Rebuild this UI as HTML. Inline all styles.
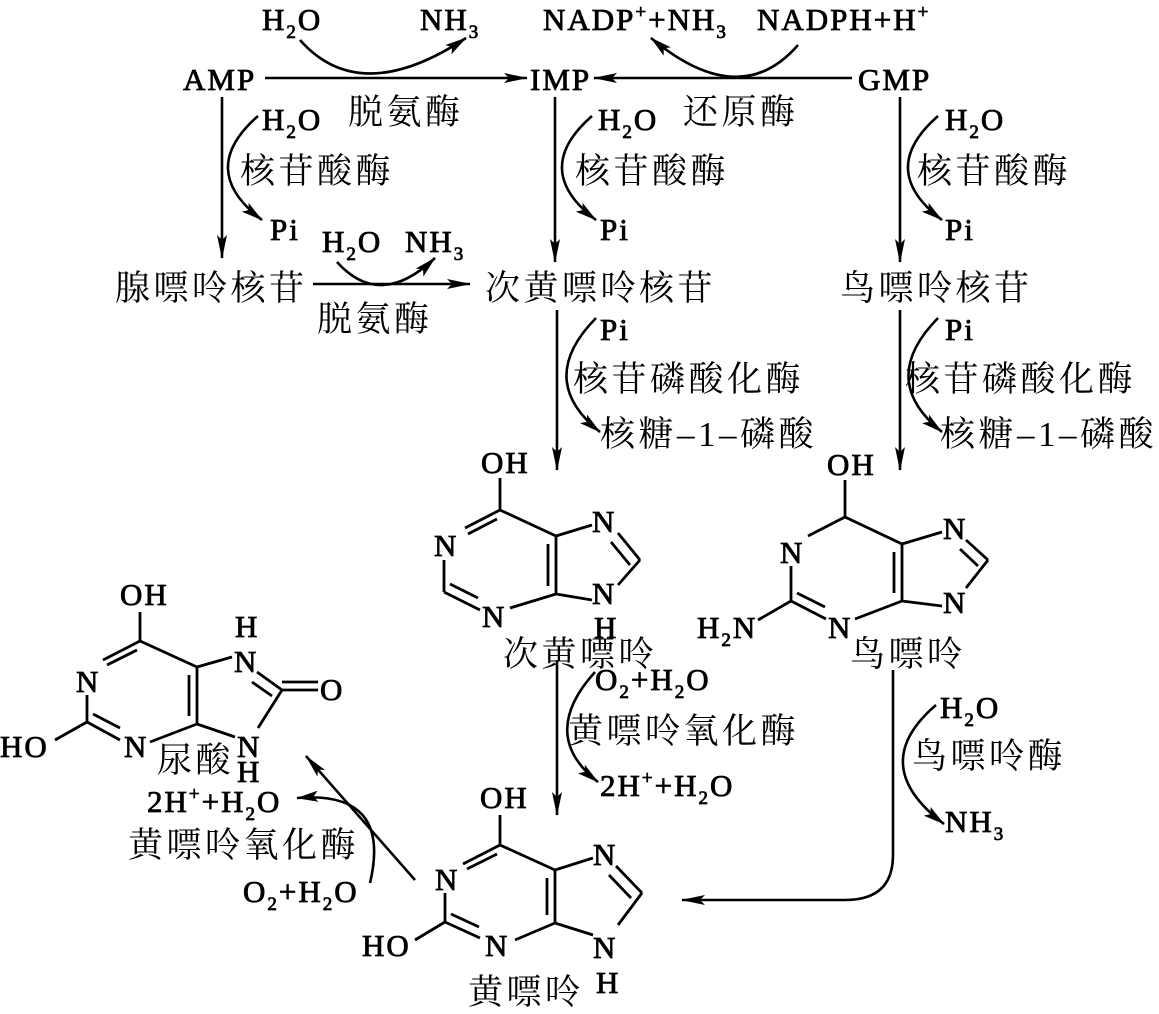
<!DOCTYPE html>
<html><head><meta charset="utf-8">
<style>
html,body{margin:0;padding:0;background:#fff;}
svg{display:block;}
.l{font-family:"Liberation Serif","Times New Roman",serif;font-size:31px;letter-spacing:2px;fill:#000;stroke:#000;stroke-width:0.8px;}
.c{font-family:"Noto Serif CJK SC","Noto Sans CJK SC",serif;font-size:35px;letter-spacing:3.5px;fill:#000;}
.c2{font-family:"Liberation Serif","Noto Serif CJK SC",serif;font-size:35px;letter-spacing:3.5px;fill:#000;}
.s{font-size:19px;}
line,path{stroke:#000;stroke-width:2.6;fill:none;}
.b line{stroke-width:2.8;}
</style></head>
<body>
<svg width="1159" height="1014" viewBox="0 0 1159 1014" xmlns="http://www.w3.org/2000/svg">
<defs>
<marker id="a" viewBox="0 0 24 10" refX="23" refY="5" markerWidth="24" markerHeight="10" markerUnits="userSpaceOnUse" orient="auto">
<path d="M0,0 L24,5 L0,10 L5,5 Z" style="fill:#000;stroke:none"/>
</marker>
<marker id="m" viewBox="0 0 24 12" refX="23" refY="6" markerWidth="22" markerHeight="12" markerUnits="userSpaceOnUse" orient="auto">
<path d="M0,0 L24,6 L0,12 L5,6 Z" style="fill:#000;stroke:none"/>
</marker>
</defs>

<text class="l" x="262" y="30">H<tspan class="s" dy="8">2</tspan><tspan dy="-8">O</tspan></text>
<text class="l" x="420" y="30">NH<tspan class="s" dy="8">3</tspan></text>
<text class="l" x="543" y="30">NADP<tspan class="s" dy="-12">+</tspan><tspan dy="12">+NH</tspan><tspan class="s" dy="8">3</tspan></text>
<text class="l" x="757" y="30">NADPH+H<tspan class="s" dy="-12">+</tspan></text>
<text class="l" x="183" y="90">AMP</text>
<text class="l" x="530" y="90">IMP</text>
<text class="l" x="858" y="90">GMP</text>
<text class="c" x="348" y="124">脱氨酶</text>
<text class="c" x="683" y="124">还原酶</text>
<line x1="265" y1="78" x2="527" y2="78" marker-end="url(#a)"/>
<line x1="852" y1="78" x2="594" y2="78" marker-end="url(#a)"/>
<path d="M300,40 Q360,108 466,38" marker-end="url(#m)"/>
<path d="M798,45 Q740,112 651,38" marker-end="url(#m)"/>

<line x1="222" y1="97" x2="222" y2="258" marker-end="url(#a)"/>
<line x1="555" y1="97" x2="555" y2="262" marker-end="url(#a)"/>
<line x1="900" y1="97" x2="900" y2="262" marker-end="url(#a)"/>
<path d="M258,116 Q196,170 262,220" marker-end="url(#m)"/>
<path d="M592,116 Q530,170 596,220" marker-end="url(#m)"/>
<path d="M938,116 Q876,170 942,220" marker-end="url(#m)"/>
<text class="l" x="262" y="130">H<tspan class="s" dy="8">2</tspan><tspan dy="-8">O</tspan></text>
<text class="c" x="240" y="183">核苷酸酶</text>
<text class="l" x="270" y="240">Pi</text>
<text class="l" x="598" y="130">H<tspan class="s" dy="8">2</tspan><tspan dy="-8">O</tspan></text>
<text class="c" x="575" y="183">核苷酸酶</text>
<text class="l" x="600" y="240">Pi</text>
<text class="l" x="945" y="130">H<tspan class="s" dy="8">2</tspan><tspan dy="-8">O</tspan></text>
<text class="c" x="917" y="183">核苷酸酶</text>
<text class="l" x="945" y="240">Pi</text>

<text class="c" x="115" y="300">腺嘌呤核苷</text>
<text class="c" x="485" y="300">次黄嘌呤核苷</text>
<text class="c" x="840" y="300">鸟嘌呤核苷</text>
<text class="l" x="322" y="252">H<tspan class="s" dy="8">2</tspan><tspan dy="-8">O</tspan></text>
<text class="l" x="405" y="252">NH<tspan class="s" dy="8">3</tspan></text>
<text class="c" x="317" y="331">脱氨酶</text>
<line x1="313" y1="284" x2="470" y2="284" marker-end="url(#a)"/>
<path d="M337,262 Q380,310 435,258" marker-end="url(#m)"/>

<line x1="557" y1="310" x2="557" y2="470" marker-end="url(#a)"/>
<line x1="900" y1="310" x2="900" y2="470" marker-end="url(#a)"/>
<path d="M596,318 Q535,380 600,432" marker-end="url(#m)"/>
<path d="M938,318 Q877,380 942,432" marker-end="url(#m)"/>
<text class="l" x="600" y="340">Pi</text>
<text class="c" x="573" y="391">核苷磷酸化酶</text>
<text class="c2" x="600" y="446">核糖–1–磷酸</text>
<text class="l" x="945" y="340">Pi</text>
<text class="c" x="905" y="391">核苷磷酸化酶</text>
<text class="c2" x="940" y="446">核糖–1–磷酸</text>

<g class="b">
<line x1="500" y1="510" x2="500" y2="478"/>
<line x1="500" y1="510" x2="465" y2="528"/><line x1="497" y1="519" x2="468" y2="534"/>
<line x1="444" y1="560" x2="444" y2="592"/>
<line x1="444" y1="592" x2="480" y2="610"/><line x1="450" y1="584" x2="478" y2="598"/>
<line x1="510" y1="608" x2="556" y2="594"/>
<line x1="556" y1="594" x2="556" y2="536"/><line x1="548" y1="586" x2="548" y2="544"/>
<line x1="556" y1="536" x2="500" y2="510"/>
<line x1="556" y1="536" x2="592" y2="525"/>
<line x1="618" y1="533" x2="640" y2="560"/><line x1="611" y1="542" x2="630" y2="565"/>
<line x1="640" y1="560" x2="618" y2="585"/>
<line x1="556" y1="594" x2="592" y2="600"/>
</g>
<text class="l" x="481" y="473">OH</text>
<text class="l" x="434" y="556">N</text>
<text class="l" x="482" y="627">N</text>
<text class="l" x="592" y="532">N</text>
<text class="l" x="592" y="604">N</text>
<text class="l" x="594" y="638">H</text>
<text class="c" x="503" y="666">次黄嘌呤</text>

<g class="b">
<line x1="845" y1="517" x2="845" y2="480"/>
<line x1="845" y1="517" x2="808" y2="536"/>
<line x1="791" y1="566" x2="791" y2="601"/>
<line x1="791" y1="601" x2="826" y2="619"/><line x1="797" y1="593" x2="825" y2="607"/>
<line x1="855" y1="619" x2="902" y2="601"/>
<line x1="902" y1="601" x2="902" y2="544"/><line x1="894" y1="593" x2="894" y2="552"/>
<line x1="902" y1="544" x2="845" y2="517"/>
<line x1="902" y1="544" x2="942" y2="532"/>
<line x1="966" y1="540" x2="988" y2="560"/><line x1="960" y1="549" x2="978" y2="566"/>
<line x1="988" y1="560" x2="966" y2="588"/>
<line x1="902" y1="601" x2="942" y2="606"/>
<line x1="791" y1="601" x2="758" y2="620"/>
</g>
<text class="l" x="827" y="475">OH</text>
<text class="l" x="780" y="563">N</text>
<text class="l" x="828" y="638">N</text>
<text class="l" x="943" y="539">N</text>
<text class="l" x="943" y="613">N</text>
<text class="l" x="697" y="638">H<tspan class="s" dy="8">2</tspan><tspan dy="-8">N</tspan></text>
<text class="c" x="850" y="666">鸟嘌呤</text>

<line x1="557" y1="660" x2="557" y2="815" marker-end="url(#a)"/>
<path d="M595,672 Q538,735 598,782" marker-end="url(#m)"/>
<text class="l" x="595" y="690">O<tspan class="s" dy="8">2</tspan><tspan dy="-8">+H</tspan><tspan class="s" dy="8">2</tspan><tspan dy="-8">O</tspan></text>
<text class="c" x="568" y="743">黄嘌呤氧化酶</text>
<text class="l" x="600" y="796">2H<tspan class="s" dy="-12">+</tspan><tspan dy="12">+H</tspan><tspan class="s" dy="8">2</tspan><tspan dy="-8">O</tspan></text>

<path d="M893,670 L893,855 Q893,900 845,900 L682,900" marker-end="url(#a)"/>
<path d="M936,705 Q866,765 944,824" marker-end="url(#m)"/>
<text class="l" x="940" y="718">H<tspan class="s" dy="8">2</tspan><tspan dy="-8">O</tspan></text>
<text class="c" x="912" y="768">鸟嘌呤酶</text>
<text class="l" x="945" y="832">NH<tspan class="s" dy="8">3</tspan></text>

<g class="b">
<line x1="500" y1="845" x2="500" y2="815"/>
<line x1="500" y1="845" x2="463" y2="864"/><line x1="497" y1="854" x2="467" y2="869"/>
<line x1="445" y1="893" x2="445" y2="922"/>
<line x1="445" y1="922" x2="480" y2="938"/><line x1="451" y1="914" x2="479" y2="927"/>
<line x1="445" y1="922" x2="415" y2="940"/>
<line x1="515" y1="940" x2="555" y2="923"/>
<line x1="555" y1="923" x2="555" y2="870"/><line x1="547" y1="915" x2="547" y2="878"/>
<line x1="555" y1="870" x2="500" y2="845"/>
<line x1="555" y1="870" x2="593" y2="858"/>
<line x1="616" y1="866" x2="642" y2="893"/><line x1="609" y1="875" x2="631" y2="898"/>
<line x1="642" y1="893" x2="618" y2="925"/>
<line x1="555" y1="923" x2="593" y2="935"/>
</g>
<text class="l" x="480" y="808">OH</text>
<text class="l" x="435" y="890">N</text>
<text class="l" x="485" y="956">N</text>
<text class="l" x="593" y="865">N</text>
<text class="l" x="593" y="958">N</text>
<text class="l" x="362" y="956">HO</text>
<text class="l" x="596" y="993">H</text>
<text class="c" x="468" y="1004">黄嘌呤</text>

<line x1="415" y1="880" x2="306" y2="756" marker-end="url(#a)"/>
<path d="M370,883 Q392,790 297,798" marker-end="url(#m)"/>
<text class="l" x="147" y="812">2H<tspan class="s" dy="-12">+</tspan><tspan dy="12">+H</tspan><tspan class="s" dy="8">2</tspan><tspan dy="-8">O</tspan></text>
<text class="c" x="128" y="857">黄嘌呤氧化酶</text>
<text class="l" x="243" y="902">O<tspan class="s" dy="8">2</tspan><tspan dy="-8">+H</tspan><tspan class="s" dy="8">2</tspan><tspan dy="-8">O</tspan></text>

<g class="b">
<line x1="140" y1="641" x2="140" y2="612"/>
<line x1="140" y1="641" x2="103" y2="660"/><line x1="137" y1="650" x2="107" y2="665"/>
<line x1="87" y1="695" x2="87" y2="722"/>
<line x1="87" y1="722" x2="120" y2="740"/><line x1="93" y1="714" x2="120" y2="728"/>
<line x1="87" y1="722" x2="55" y2="740"/>
<line x1="150" y1="742" x2="197" y2="724"/>
<line x1="197" y1="724" x2="197" y2="667"/><line x1="189" y1="716" x2="189" y2="675"/>
<line x1="197" y1="667" x2="140" y2="641"/>
<line x1="197" y1="667" x2="232" y2="657"/>
<line x1="257" y1="672" x2="282" y2="690"/><line x1="252" y1="682" x2="272" y2="696"/>
<line x1="282" y1="690" x2="318" y2="690"/><line x1="282" y1="682" x2="318" y2="682"/>
<line x1="282" y1="690" x2="258" y2="728"/>
<line x1="197" y1="724" x2="235" y2="737"/>
</g>
<text class="l" x="120" y="605">OH</text>
<text class="l" x="76" y="692">N</text>
<text class="l" x="124" y="757">N</text>
<text class="l" x="234" y="672">N</text>
<text class="l" x="235" y="637">H</text>
<text class="l" x="320" y="700">O</text>
<text class="l" x="237" y="757">N</text>
<text class="l" x="0" y="757">HO</text>
<text class="c" x="157" y="772">尿酸</text>
<text class="l" x="237" y="782">H</text>
</svg>
</body></html>
